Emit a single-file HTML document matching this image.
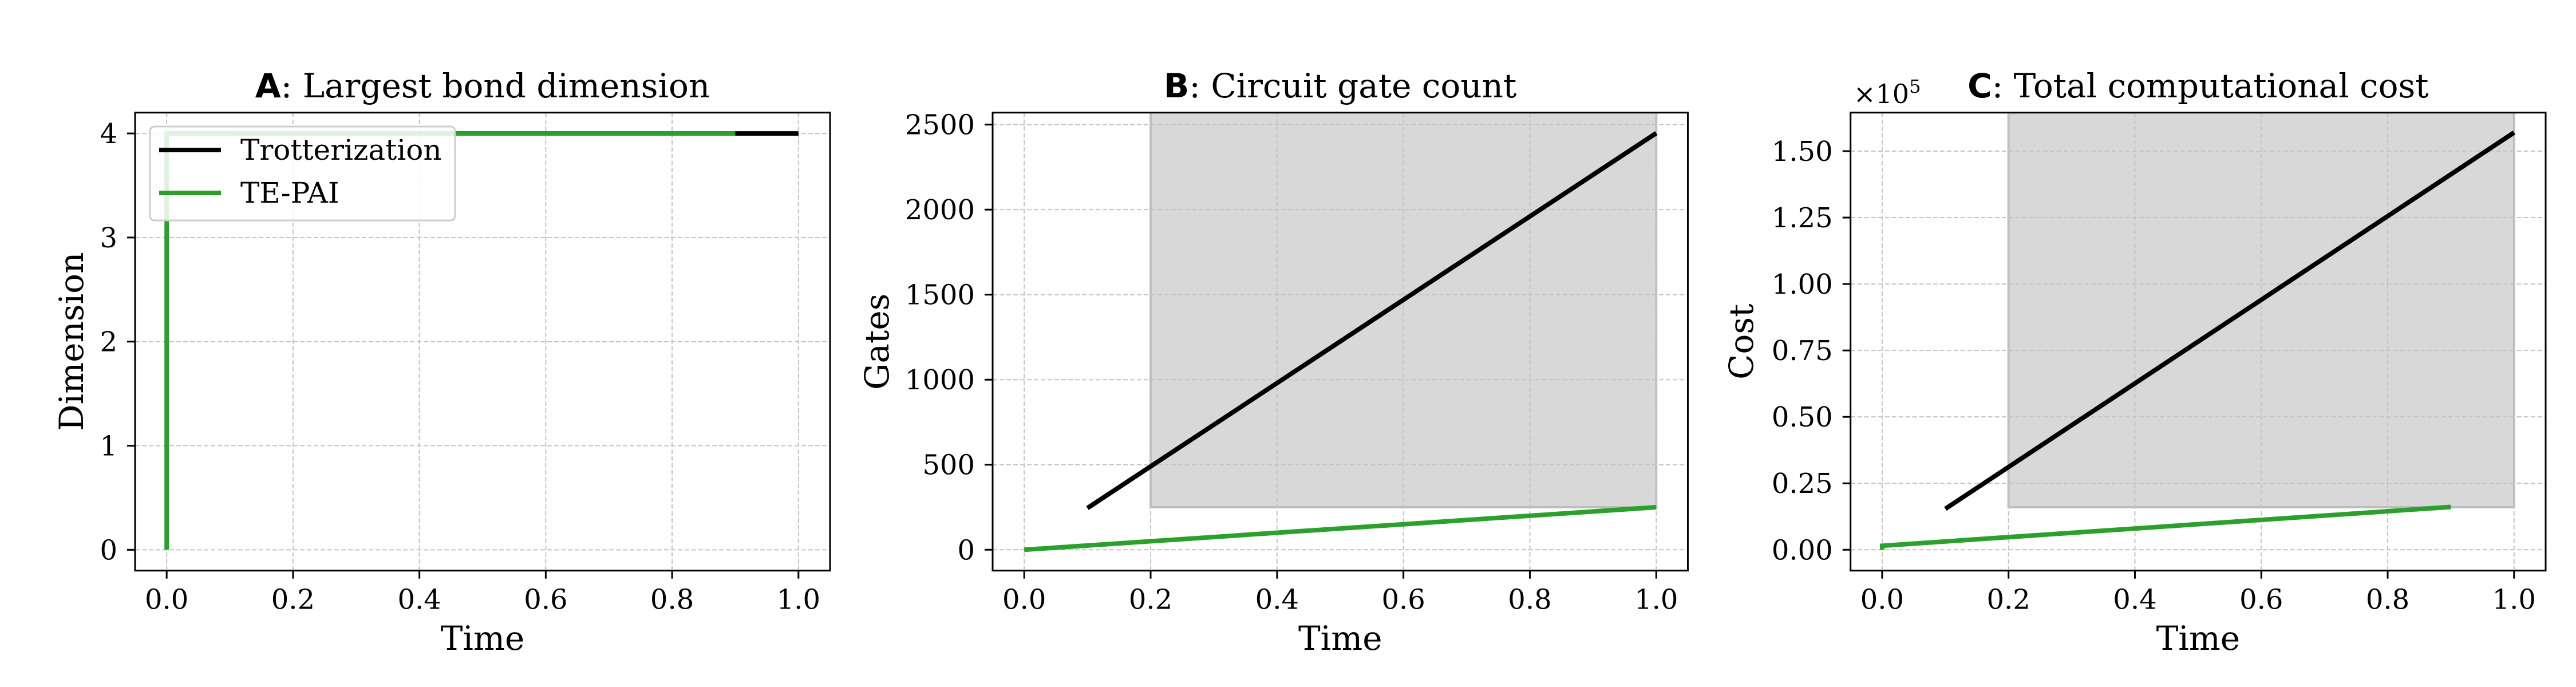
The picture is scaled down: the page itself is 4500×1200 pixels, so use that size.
<!DOCTYPE html>
<html><head><meta charset="utf-8">
<style>
html,body{margin:0;padding:0;background:#fff;}
svg{display:block;}
text{font-family:"DejaVu Serif","Liberation Serif",serif;fill:#000;}
</style></head>
<body>
<svg id="fig" width="4500" height="1200" viewBox="0 0 4500 1200" xmlns="http://www.w3.org/2000/svg"></svg>
<script>
// ---- data ----
const xTicks = [0.0, 0.2, 0.4, 0.6, 0.8, 1.0];
const xTickLabels = ["0.0", "0.2", "0.4", "0.6", "0.8", "1.0"];
// Panel A
const dimYTicks = [0, 1, 2, 3, 4];
const dimYTickLabels = ["0", "1", "2", "3", "4"];
const trotTimesA = [0.1, 1.0];
const trotDims = [4, 4];
const tepaiTimesA = [0.0, 0.0, 0.9];
const tepaiDims = [0, 4, 4];
// Panel B
const gateYTicks = [0, 500, 1000, 1500, 2000, 2500];
const gateYTickLabels = ["0", "500", "1000", "1500", "2000", "2500"];
const trotTimesB = [0.1, 1.0];
const trotGates = [245, 2450];
const tepaiTimesB = [0.0, 1.0];
const tepaiGates = [0, 250];
const shadeBx = [0.2, 1.0];
const shadeBy = [250, 3000];
// Panel C (units of 1e5)
const costYTicks = [0, 0.25, 0.5, 0.75, 1.0, 1.25, 1.5];
const costYTickLabels = ["0.00", "0.25", "0.50", "0.75", "1.00", "1.25", "1.50"];
const trotTimesC = [0.1, 1.0];
const trotCost = [0.154, 1.57];
const tepaiTimesC = [0.0, 0.0, 0.9];
const tepaiCost = [0.0, 0.015, 0.161];
const shadeCx = [0.2, 1.0];
const shadeCy = [0.16, 2.0];

const NS = "http://www.w3.org/2000/svg";
const svg = document.getElementById("fig");
function mk(tag, attrs, parent) {
  const e = document.createElementNS(NS, tag);
  for (const k in attrs) e.setAttribute(k, attrs[k]);
  (parent || svg).appendChild(e);
  return e;
}
const TOP = 196.7, BOT = 996.7;

function panel(cfg) {
  const g = mk("g", {});
  
  
  const L = cfg.left, R = cfg.right;
  const sx = v => L + (v - (-0.05)) / 1.1 * (R - L);
  const sy = v => BOT - (v - cfg.ymin) / (cfg.ymax - cfg.ymin) * (BOT - TOP);
  const clipId = "clip-" + cfg.name;
  const cp = mk("clipPath", {id: clipId}, g);
  mk("rect", {x: L, y: TOP, width: R - L, height: BOT - TOP}, cp);
  const plot = mk("g", {"clip-path": "url(#" + clipId + ")"}, g);
  if (cfg.shadeX) {
    const r = mk("rect", {x: sx(cfg.shadeX[0]), y: sy(cfg.shadeY[1]), width: sx(cfg.shadeX[1]) - sx(cfg.shadeX[0]),
      height: sy(cfg.shadeY[0]) - sy(cfg.shadeY[1]), fill: "#d8d8d8", stroke: "#bdbdbd", "stroke-width": 4}, plot);
    
    
  }
  xTicks.forEach(v => {
    const l = mk("line", {x1: sx(v), x2: sx(v), y1: TOP, y2: BOT, stroke: "#c4c4c4", "stroke-width": 2, "stroke-dasharray": "8,4"}, plot);
    
    
  });
  cfg.yTicks.forEach(v => {
    const l = mk("line", {x1: L, x2: R, y1: sy(v), y2: sy(v), stroke: "#c4c4c4", "stroke-width": 2, "stroke-dasharray": "8,4"}, plot);
    
    
  });
  cfg.series.forEach(s => {
    const pts = s.x.map((v, i) => sx(v).toFixed(1) + "," + sy(s.y[i]).toFixed(1)).join(" ");
    const p = mk("polyline", {points: pts, fill: "none", stroke: s.color, "stroke-width": 8}, plot);
    
    
  });
  const fr = mk("rect", {x: L, y: TOP, width: R - L, height: BOT - TOP, fill: "none", stroke: "#000", "stroke-width": 3}, g);
  
  
  xTicks.forEach((v, i) => {
    mk("line", {x1: sx(v), x2: sx(v), y1: BOT, y2: BOT + 14, stroke: "#000", "stroke-width": 3}, g);
    const t = mk("text", {x: sx(v), y: BOT + 67, "text-anchor": "middle", "font-size": 48}, g);
    t.textContent = xTickLabels[i];
    
    
  });
  cfg.yTicks.forEach((v, i) => {
    mk("line", {x1: L - 14, x2: L, y1: sy(v), y2: sy(v), stroke: "#000", "stroke-width": 3}, g);
    const t = mk("text", {x: L - 31, y: sy(v) + 17, "text-anchor": "end", "font-size": 48}, g);
    t.textContent = cfg.yLabels[i];
    
    
  });
  const xl = mk("text", {x: (L + R) / 2, y: 1135, "text-anchor": "middle", "font-size": 58}, g);
  xl.textContent = "Time";
  
  
  const yl = mk("text", {x: 0, y: 0, "text-anchor": "middle", "font-size": 58,
    transform: "translate(" + cfg.ylabX + "," + (TOP + BOT) / 2 + ") rotate(-90)"}, g);
  yl.textContent = cfg.ylabel;
  
  
  const tt = mk("text", {x: (L + R) / 2, y: 170, "text-anchor": "middle", "font-size": 58}, g);
  const b = mk("tspan", {"font-family": "DejaVu Sans, Liberation Sans, sans-serif", "font-weight": "bold"}, tt);
  b.textContent = cfg.letter;
  const rest = mk("tspan", {}, tt);
  rest.textContent = ": " + cfg.title;
  
  
  return {g, sx, sy};
}

panel({name: "panel-a", left: 236, right: 1450, ymin: -0.2, ymax: 4.2,
  yTicks: dimYTicks, yLabels: dimYTickLabels, ylabel: "Dimension", ylabX: 145, letter: "A", title: "Largest bond dimension",
  series: [{name: "trotterization-line", x: trotTimesA, y: trotDims, color: "#000"},
           {name: "tepai-line", x: tepaiTimesA, y: tepaiDims, color: "#2ca02c"}]});
panel({name: "panel-b", left: 1734, right: 2948.5, ymin: -122.7, ymax: 2570.6,
  yTicks: gateYTicks, yLabels: gateYTickLabels, ylabel: "Gates", ylabX: 1552, letter: "B", title: "Circuit gate count",
  shadeX: shadeBx, shadeY: shadeBy,
  series: [{name: "trotterization-line", x: trotTimesB, y: trotGates, color: "#000"},
           {name: "tepai-line", x: tepaiTimesB, y: tepaiGates, color: "#2ca02c"}]});
panel({name: "panel-c", left: 3232.7, right: 4447, ymin: -0.0785, ymax: 1.645,
  yTicks: costYTicks, yLabels: costYTickLabels, ylabel: "Cost", ylabX: 3062, letter: "C", title: "Total computational cost",
  shadeX: shadeCx, shadeY: shadeCy,
  series: [{name: "trotterization-line", x: trotTimesC, y: trotCost, color: "#000"},
           {name: "tepai-line", x: tepaiTimesC, y: tepaiCost, color: "#2ca02c"}]});

const off = mk("text", {x: 3238, y: 180, "font-size": 46});


off.appendChild(document.createTextNode("×10"));
const sup = mk("tspan", {dy: -18, "font-size": 32}, off);
sup.textContent = "5";

const lg = mk("g", {});


mk("rect", {x: 262, y: 221, width: 533, height: 164, rx: 8, fill: "#fff", "fill-opacity": 0.85, stroke: "#cccccc", "stroke-width": 3}, lg);
const legItems = [["Trotterization", "#000", 262], ["TE-PAI", "#2ca02c", 337]];
legItems.forEach(it => {
  const e = mk("g", {}, lg);
  
  
  mk("line", {x1: 278, x2: 386, y1: it[2], y2: it[2], stroke: it[1], "stroke-width": 8}, e);
  const t = mk("text", {x: 420, y: it[2] + 17, "font-size": 50}, e);
  t.textContent = it[0];
});
</script>
</body></html>
